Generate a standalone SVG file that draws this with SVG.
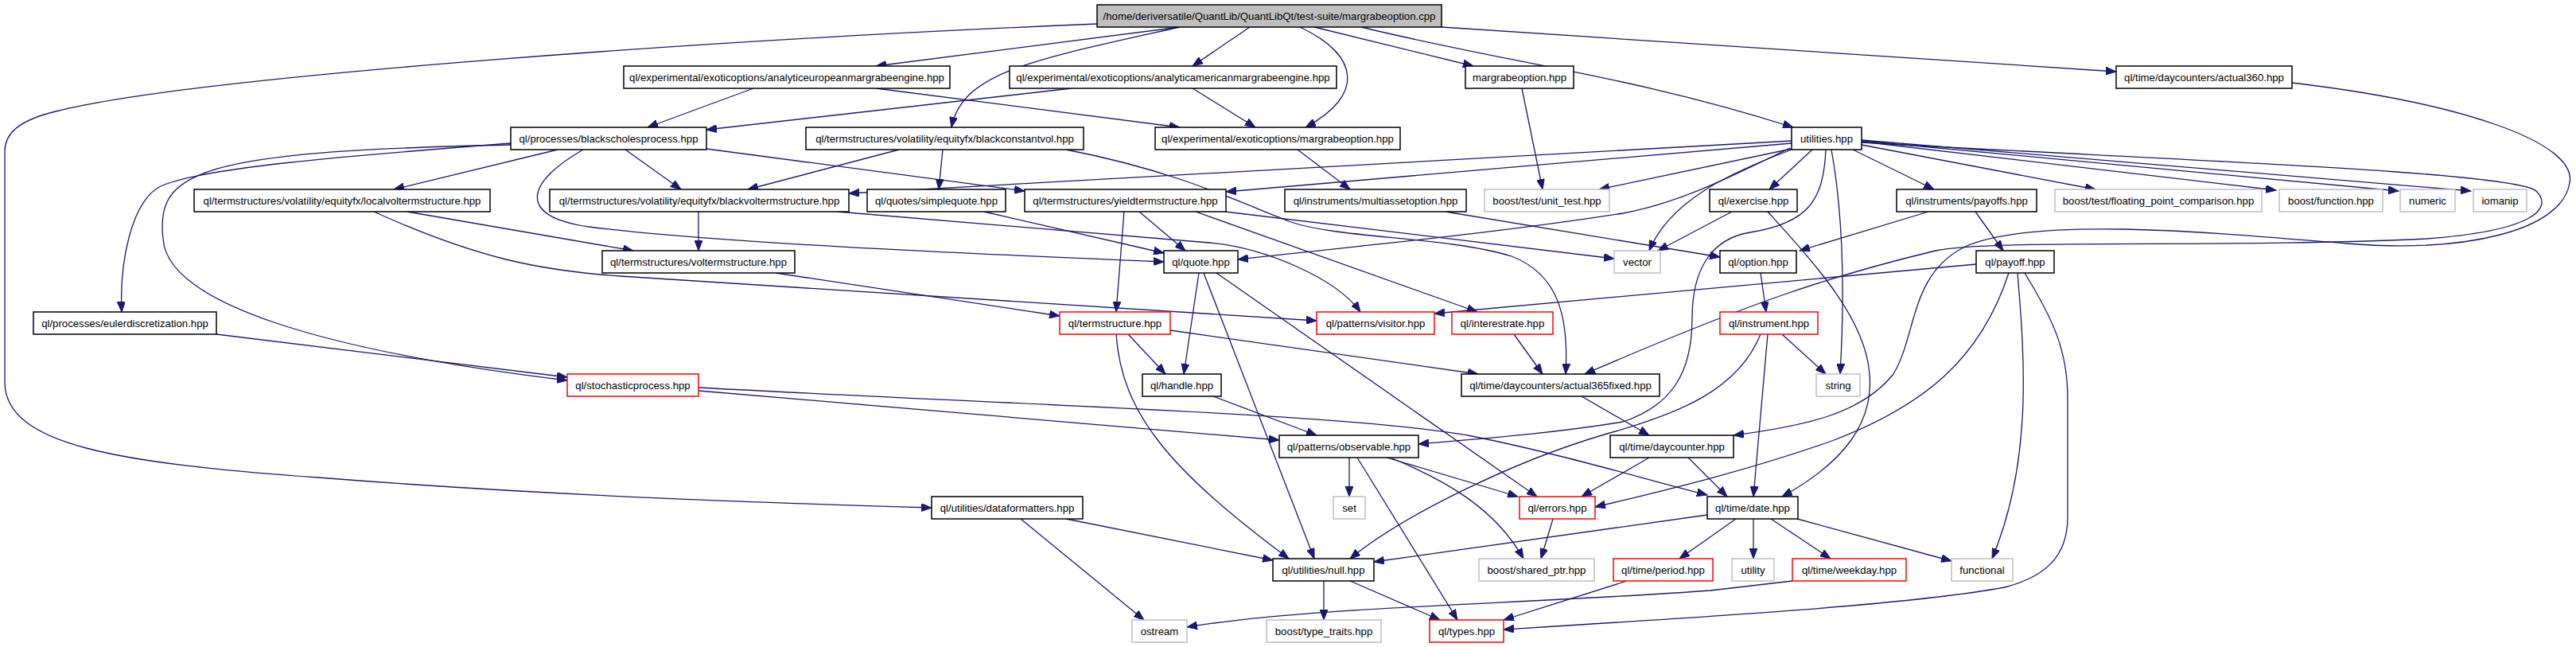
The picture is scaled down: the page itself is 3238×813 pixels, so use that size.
<svg xmlns="http://www.w3.org/2000/svg" width="3238" height="813" viewBox="0 0 3238 813">
<style>
rect{fill:#fff;stroke:#000;stroke-width:1.5}
.g rect{stroke:#bfbfbf}
.r rect{stroke:#ff0000}
.m rect{fill:#bfbfbf}
text{font-family:"Liberation Sans",Arial,sans-serif;font-size:13.2px;text-anchor:middle;fill:#000}
#edges path{fill:none;stroke:#191970;stroke-width:1.3;marker-end:url(#a)}
</style>
<defs>
<marker id="a" markerUnits="userSpaceOnUse" markerWidth="14" markerHeight="10" refX="13" refY="5" orient="auto"><path d="M0,0 L13,5 L0,10 z" fill="#191970" stroke="#191970" stroke-width="1"/></marker>
</defs>
<rect x="0" y="0" width="3238" height="813" style="fill:#fff;stroke:none"/>
<g id="edges">
<path d="M1379,30 C900,50 250,95 70,140 C20,152 6,170 6,190 L6,480 C6,560 150,582 400,600 C700,624 1000,633 1171,638"/>
<path d="M1483,34 L1101,83"/>
<path d="M1483,34 C1300,75 1210,90 1196,160"/>
<path d="M1571,34 L1499,83"/>
<path d="M1634,34 C1710,70 1715,120 1641,160"/>
<path d="M1652,34 L1852,83"/>
<path d="M1711,34 C1900,80 2050,95 2254,160"/>
<path d="M1812,34 L2660,90"/>
<path d="M947,111 L814,160"/>
<path d="M1101,111 L1483,160"/>
<path d="M1347,111 L888,163"/>
<path d="M1499,111 L1578,160"/>
<path d="M1913,111 L1939,238"/>
<path d="M2881,104 C3100,130 3240,180 3230,230 C3220,290 3100,318 2950,306 C2800,294 2560,270 2470,310 C2400,345 2410,420 2380,470 C2340,520 2270,535 2179,547"/>
<path d="M642,180 C450,195 250,210 200,235 C165,255 150,330 153,392"/>
<path d="M642,182 C250,190 195,215 205,300 C210,380 400,440 713,478"/>
<path d="M701,188 L495,238"/>
<path d="M733,188 C660,230 650,272 740,285 C900,305 1200,318 1463,329"/>
<path d="M786,188 L856,238"/>
<path d="M888,187 L1288,240"/>
<path d="M1130,188 L940,238"/>
<path d="M1185,188 L1180,238"/>
<path d="M1340,188 C1480,215 1560,255 1620,278 C1680,300 1820,297 1900,322 C1960,345 1972,400 1968,470"/>
<path d="M1631,188 L1697,238"/>
<path d="M2252,177 L1067,243"/>
<path d="M2252,180 L1541,241"/>
<path d="M2252,187 L2010,238"/>
<path d="M2250,186 C2170,225 2110,255 2040,268 C1900,290 1750,305 1556,326"/>
<path d="M2252,188 C2180,215 2100,250 2073,315"/>
<path d="M2278,188 L2224,238"/>
<path d="M2295,188 C2292,250 2275,280 2200,292 C2150,300 2127,340 2127,400 C2127,470 2100,510 2040,530 C1950,545 1850,552 1783,558"/>
<path d="M2302,188 C2315,260 2320,350 2313,470"/>
<path d="M2329,188 L2431,238"/>
<path d="M2340,182 L2634,238"/>
<path d="M2340,178 L2861,239"/>
<path d="M2340,177 L3015,240"/>
<path d="M2340,176 L3106,240"/>
<path d="M2340,179 C2700,200 3160,215 3188,240 C3210,262 3185,290 3050,300 C2800,312 2500,300 2433,315 C2300,347 2200,380 1992,470"/>
<path d="M512,266 L796,315"/>
<path d="M470,266 C600,325 680,340 780,347 L1655,403"/>
<path d="M878,266 L878,315"/>
<path d="M1053,266 L1520,305 C1590,311 1680,350 1710,392"/>
<path d="M1237,266 L1463,318"/>
<path d="M1432,266 L1490,315"/>
<path d="M1413,266 L1403,392"/>
<path d="M1503,266 L1857,392"/>
<path d="M1540,266 L2029,325"/>
<path d="M1817,266 L2162,323"/>
<path d="M2177,266 L2084,315"/>
<path d="M2222,266 C2280,330 2345,400 2350,470 C2355,530 2320,580 2240,624"/>
<path d="M2424,266 L2262,315"/>
<path d="M2483,266 L2518,315"/>
<path d="M975,343 L1332,397"/>
<path d="M1507,343 L1488,470"/>
<path d="M1513,343 L1652,702"/>
<path d="M1529,343 L1932,624"/>
<path d="M2213,343 L2220,392"/>
<path d="M2484,332 L1803,394"/>
<path d="M2525,343 C2490,450 2420,510 2300,555 C2200,590 2100,615 2005,637"/>
<path d="M2536,343 C2545,450 2555,580 2504,702"/>
<path d="M2545,343 C2580,400 2599,440 2599,500 L2599,650 C2599,700 2570,725 2520,738 C2400,760 2150,775 1890,791"/>
<path d="M272,420 L713,474"/>
<path d="M1418,420 L1465,470"/>
<path d="M1403,420 C1410,520 1470,590 1620,702"/>
<path d="M1471,415 L1858,470"/>
<path d="M1903,420 L1939,470"/>
<path d="M2240,420 L2295,470"/>
<path d="M2222,420 L2204,624"/>
<path d="M2213,420 C2185,490 2110,520 2020,545 C1900,580 1760,650 1697,702"/>
<path d="M878,491 L1608,553"/>
<path d="M878,487 C1300,510 1700,520 1850,548 C1960,570 2060,600 2146,622"/>
<path d="M1525,498 L1655,547"/>
<path d="M1988,498 L2073,547"/>
<path d="M1696,575 L1696,624"/>
<path d="M1743,575 L1908,624"/>
<path d="M1750,576 C1820,605 1880,640 1915,702"/>
<path d="M1706,575 L1832,779"/>
<path d="M2073,575 L1988,624"/>
<path d="M2122,575 L2171,624"/>
<path d="M1340,652 L1600,704"/>
<path d="M1283,652 L1438,779"/>
<path d="M1952,652 L1937,702"/>
<path d="M2146,647 L1727,706"/>
<path d="M2182,652 L2111,702"/>
<path d="M2204,652 L2204,702"/>
<path d="M2226,652 L2301,702"/>
<path d="M2259,652 L2453,705"/>
<path d="M1664,730 L1664,779"/>
<path d="M1697,730 L1810,779"/>
<path d="M2045,730 L1890,779"/>
<path d="M2253,730 L2150,742 C1900,760 1650,762 1492,788"/>
</g>
<g id="n0" class="m"><rect x="1379" y="6" width="433" height="28"/><text x="1595.5" y="25">/home/deriversatile/QuantLib/QuantLibQt/test-suite/margrabeoption.cpp</text></g>
<g id="n1"><rect x="784" y="83" width="410" height="28"/><text x="989" y="102">ql/experimental/exoticoptions/analyticeuropeanmargrabeengine.hpp</text></g>
<g id="n2"><rect x="1269" y="83" width="411" height="28"/><text x="1474.5" y="102">ql/experimental/exoticoptions/analyticamericanmargrabeengine.hpp</text></g>
<g id="n3"><rect x="1842" y="83" width="136" height="28"/><text x="1910" y="102">margrabeoption.hpp</text></g>
<g id="n4"><rect x="2660" y="83" width="221" height="28"/><text x="2770.5" y="102">ql/time/daycounters/actual360.hpp</text></g>
<g id="n5"><rect x="642" y="160" width="246" height="28"/><text x="765" y="179">ql/processes/blackscholesprocess.hpp</text></g>
<g id="n6"><rect x="1013" y="160" width="349" height="28"/><text x="1187.5" y="179">ql/termstructures/volatility/equityfx/blackconstantvol.hpp</text></g>
<g id="n7"><rect x="1452" y="160" width="308" height="28"/><text x="1606" y="179">ql/experimental/exoticoptions/margrabeoption.hpp</text></g>
<g id="n8"><rect x="2252" y="160" width="88" height="28"/><text x="2296" y="179">utilities.hpp</text></g>
<g id="n9"><rect x="244" y="238" width="372" height="28"/><text x="430" y="257">ql/termstructures/volatility/equityfx/localvoltermstructure.hpp</text></g>
<g id="n10"><rect x="691" y="238" width="376" height="28"/><text x="879" y="257">ql/termstructures/volatility/equityfx/blackvoltermstructure.hpp</text></g>
<g id="n11"><rect x="1090" y="238" width="174" height="28"/><text x="1177" y="257">ql/quotes/simplequote.hpp</text></g>
<g id="n12"><rect x="1288" y="238" width="253" height="28"/><text x="1414.5" y="257">ql/termstructures/yieldtermstructure.hpp</text></g>
<g id="n13"><rect x="1615" y="238" width="228" height="28"/><text x="1729" y="257">ql/instruments/multiassetoption.hpp</text></g>
<g id="n14" class="g"><rect x="1866" y="238" width="157" height="28"/><text x="1944.5" y="257">boost/test/unit_test.hpp</text></g>
<g id="n15"><rect x="2149" y="238" width="110" height="28"/><text x="2204" y="257">ql/exercise.hpp</text></g>
<g id="n16"><rect x="2384" y="238" width="176" height="28"/><text x="2472" y="257">ql/instruments/payoffs.hpp</text></g>
<g id="n17" class="g"><rect x="2583" y="238" width="260" height="28"/><text x="2713" y="257">boost/test/floating_point_comparison.hpp</text></g>
<g id="n18" class="g"><rect x="2865" y="238" width="130" height="28"/><text x="2930" y="257">boost/function.hpp</text></g>
<g id="n19" class="g"><rect x="3017" y="238" width="69" height="28"/><text x="3051.5" y="257">numeric</text></g>
<g id="n20" class="g"><rect x="3109" y="238" width="67" height="28"/><text x="3142.5" y="257">iomanip</text></g>
<g id="n21"><rect x="757" y="315" width="242" height="28"/><text x="878" y="334">ql/termstructures/voltermstructure.hpp</text></g>
<g id="n22"><rect x="1463" y="315" width="93" height="28"/><text x="1509.5" y="334">ql/quote.hpp</text></g>
<g id="n23" class="g"><rect x="2029" y="315" width="58" height="28"/><text x="2058" y="334">vector</text></g>
<g id="n24"><rect x="2162" y="315" width="96" height="28"/><text x="2210" y="334">ql/option.hpp</text></g>
<g id="n25"><rect x="2484" y="315" width="98" height="28"/><text x="2533" y="334">ql/payoff.hpp</text></g>
<g id="n26"><rect x="42" y="392" width="230" height="28"/><text x="157" y="411">ql/processes/eulerdiscretization.hpp</text></g>
<g id="n27" class="r"><rect x="1332" y="392" width="139" height="28"/><text x="1401.5" y="411">ql/termstructure.hpp</text></g>
<g id="n28" class="r"><rect x="1655" y="392" width="148" height="28"/><text x="1729" y="411">ql/patterns/visitor.hpp</text></g>
<g id="n29" class="r"><rect x="1825" y="392" width="127" height="28"/><text x="1888.5" y="411">ql/interestrate.hpp</text></g>
<g id="n30" class="r"><rect x="2162" y="392" width="123" height="28"/><text x="2223.5" y="411">ql/instrument.hpp</text></g>
<g id="n31" class="r"><rect x="713" y="470" width="165" height="28"/><text x="795.5" y="489">ql/stochasticprocess.hpp</text></g>
<g id="n32"><rect x="1436" y="470" width="99" height="28"/><text x="1485.5" y="489">ql/handle.hpp</text></g>
<g id="n33"><rect x="1837" y="470" width="249" height="28"/><text x="1961.5" y="489">ql/time/daycounters/actual365fixed.hpp</text></g>
<g id="n34" class="g"><rect x="2283" y="470" width="55" height="28"/><text x="2310.5" y="489">string</text></g>
<g id="n35"><rect x="1608" y="547" width="175" height="28"/><text x="1695.5" y="566">ql/patterns/observable.hpp</text></g>
<g id="n36"><rect x="2024" y="547" width="155" height="28"/><text x="2101.5" y="566">ql/time/daycounter.hpp</text></g>
<g id="n37"><rect x="1171" y="624" width="190" height="28"/><text x="1266" y="643">ql/utilities/dataformatters.hpp</text></g>
<g id="n38" class="g"><rect x="1676" y="624" width="40" height="28"/><text x="1696" y="643">set</text></g>
<g id="n39" class="r"><rect x="1910" y="624" width="95" height="28"/><text x="1957.5" y="643">ql/errors.hpp</text></g>
<g id="n40"><rect x="2146" y="624" width="114" height="28"/><text x="2203" y="643">ql/time/date.hpp</text></g>
<g id="n41"><rect x="1600" y="702" width="127" height="28"/><text x="1663.5" y="721">ql/utilities/null.hpp</text></g>
<g id="n42" class="g"><rect x="1859" y="702" width="145" height="28"/><text x="1931.5" y="721">boost/shared_ptr.hpp</text></g>
<g id="n43" class="r"><rect x="2028" y="702" width="125" height="28"/><text x="2090.5" y="721">ql/time/period.hpp</text></g>
<g id="n44" class="g"><rect x="2177" y="702" width="53" height="28"/><text x="2203.5" y="721">utility</text></g>
<g id="n45" class="r"><rect x="2253" y="702" width="143" height="28"/><text x="2324.5" y="721">ql/time/weekday.hpp</text></g>
<g id="n46" class="g"><rect x="2453" y="702" width="77" height="28"/><text x="2491.5" y="721">functional</text></g>
<g id="n47" class="g"><rect x="1423" y="779" width="69" height="28"/><text x="1457.5" y="798">ostream</text></g>
<g id="n48" class="g"><rect x="1592" y="779" width="144" height="28"/><text x="1664" y="798">boost/type_traits.hpp</text></g>
<g id="n49" class="r"><rect x="1797" y="779" width="93" height="28"/><text x="1843.5" y="798">ql/types.hpp</text></g>
</svg>
